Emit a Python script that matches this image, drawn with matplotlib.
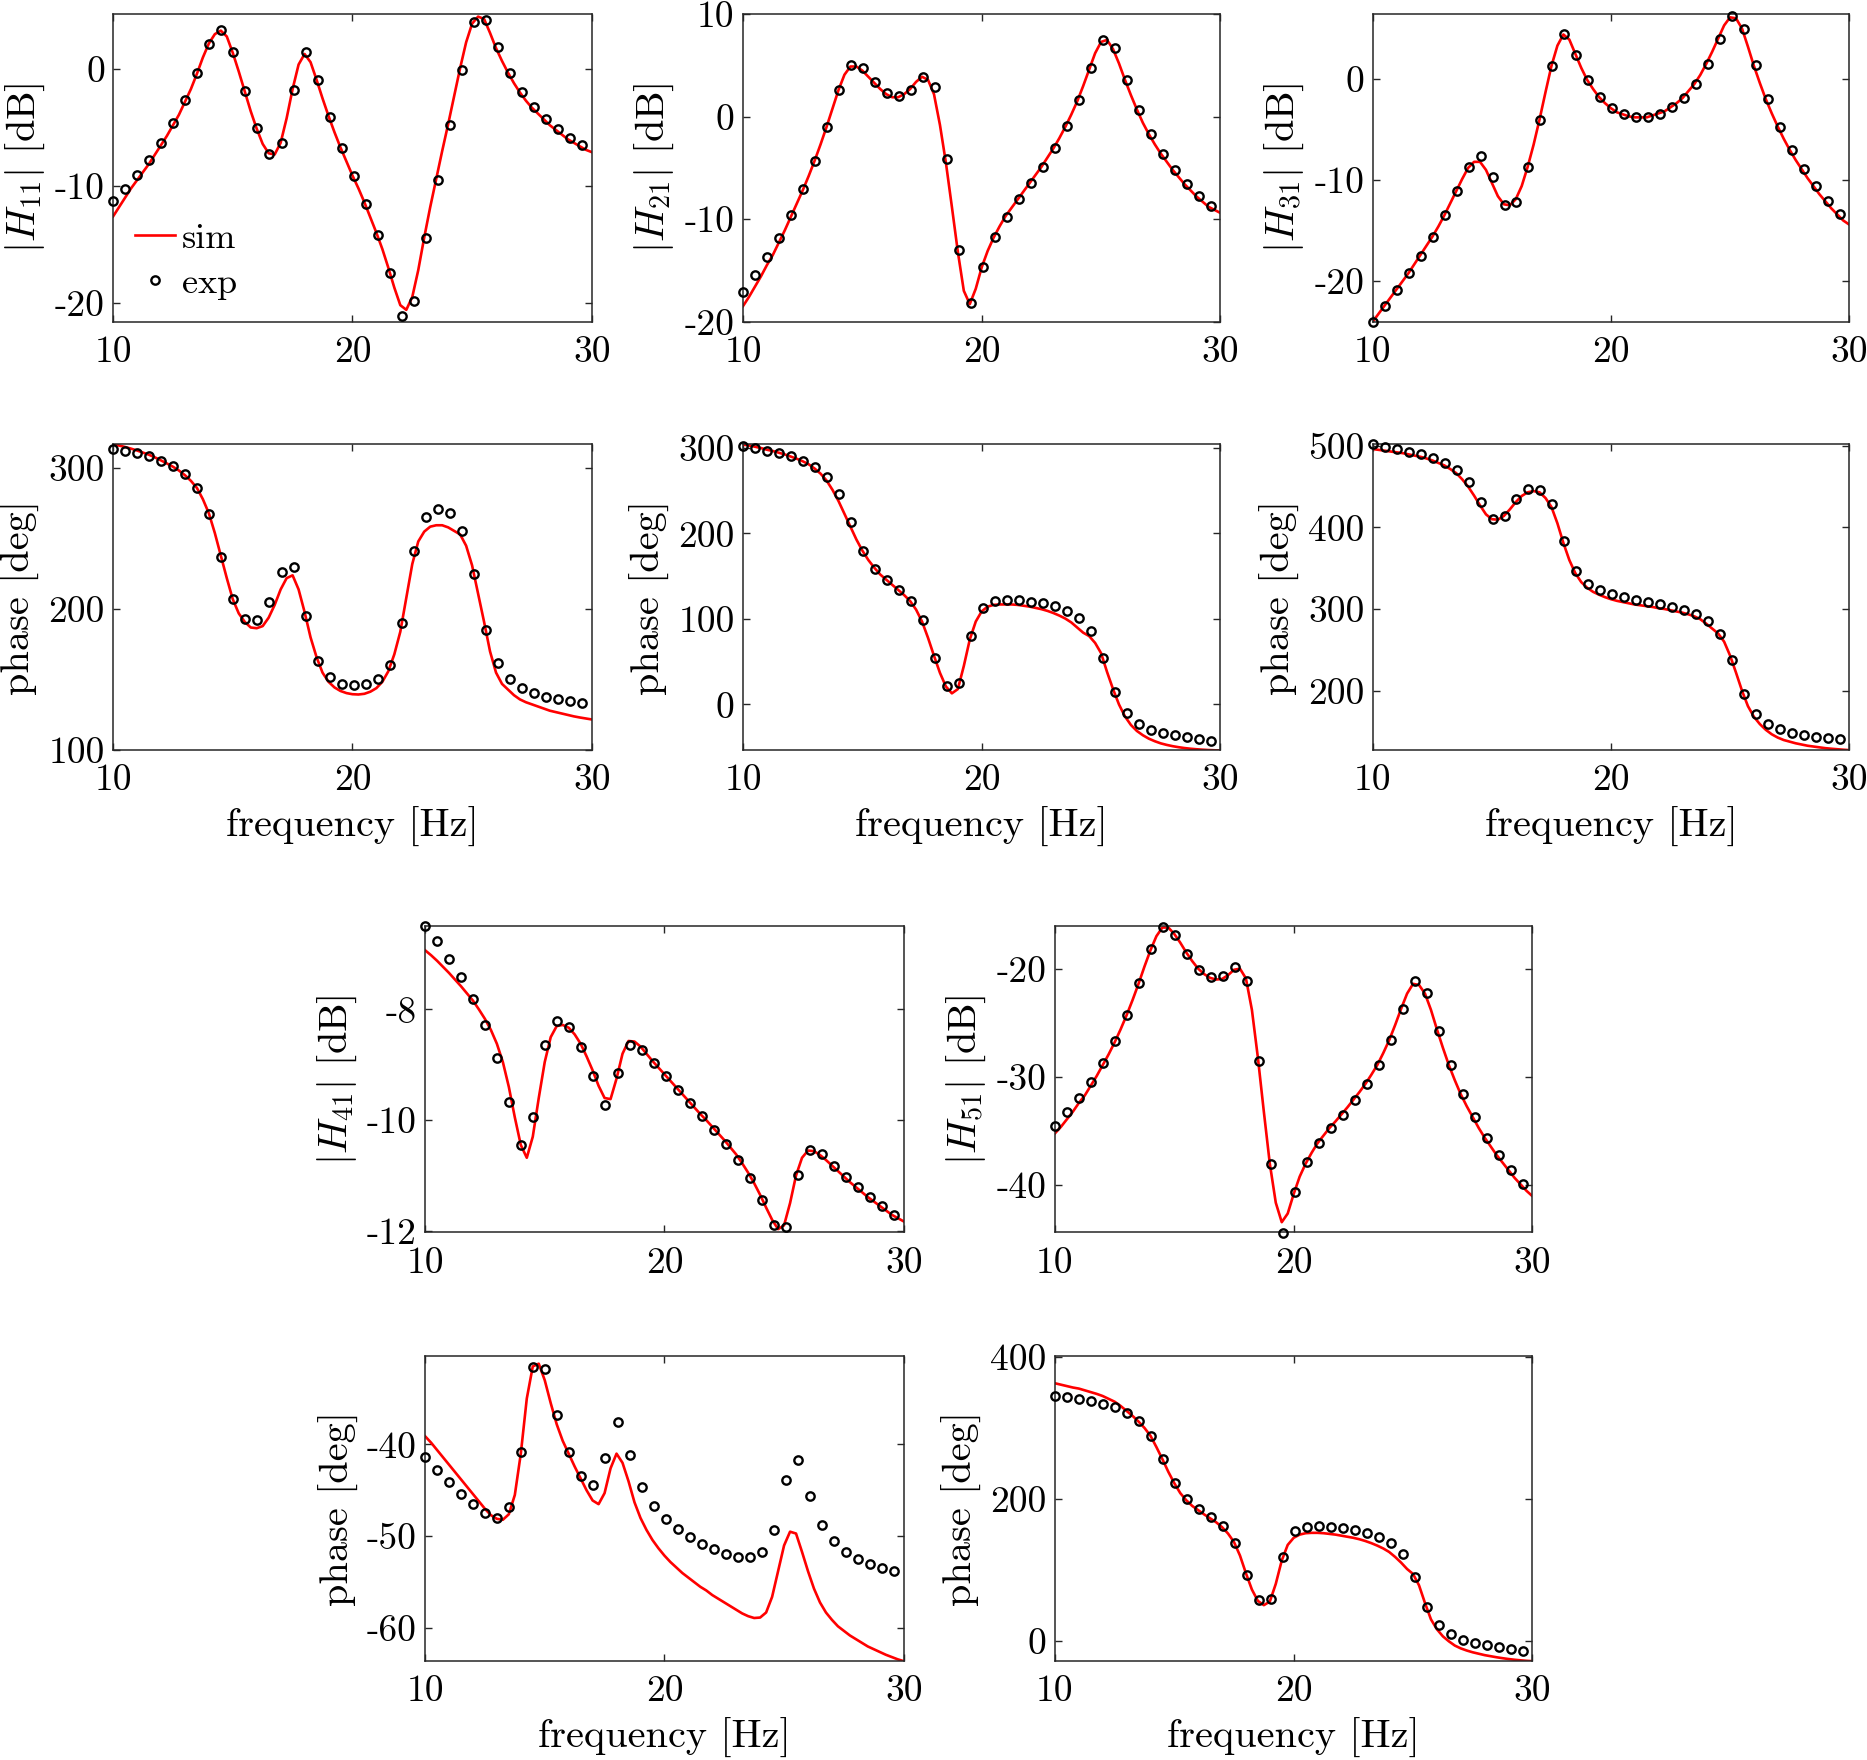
import numpy as np
import matplotlib
matplotlib.use("Agg")
import matplotlib.pyplot as plt

plt.rcParams['font.family'] = 'cmr10'
plt.rcParams['mathtext.fontset'] = 'cm'
plt.rcParams['axes.unicode_minus'] = False
plt.rcParams['axes.formatter.use_mathtext'] = False

# ---------------- data ----------------
f_exp = np.linspace(10.0, 29.6, 40)
f_sim = np.linspace(10.0, 30.0, 81)

# |H11| [dB]
h11_mag_exp = [-11.3, -10.25, -9.07, -7.78, -6.32, -4.64, -2.63, -0.31, 2.15, 3.35,
               1.46, -1.83, -5.06, -7.30, -6.35, -1.80, 1.46, -0.94, -4.12, -6.78,
               -9.13, -11.5, -14.16, -17.42, -21.09, -19.83, -14.42, -9.47, -4.78, -0.03,
               4.0, 4.18, 1.86, -0.29, -1.95, -3.26, -4.29, -5.15, -5.92, -6.52]
h11_mag_sim = [-12.6, -11.8, -11.0, -10.2, -9.5, -8.8, -8.1, -7.3, -6.5, -5.7,
               -4.8, -3.9, -2.8, -1.7, -0.4, 1.0, 2.2, 3.0, 3.3, 2.8,
               1.4, -0.2, -1.9, -3.6, -5.1, -6.4, -7.2, -7.3, -6.3, -4.2,
               -1.7, 0.4, 1.3, 0.6, -0.9, -2.5, -4.0, -5.4, -6.7, -7.9,
               -9.1, -10.2, -11.4, -12.7, -14.0, -15.4, -17.0, -18.7, -20.2, -20.6,
               -19.5, -17.2, -14.4, -11.8, -9.4, -7.0, -4.7, -2.3, 0.1, 2.3,
               3.9, 4.5, 4.3, 3.1, 1.8, 0.7, -0.3, -1.2, -2.0, -2.7,
               -3.3, -3.8, -4.3, -4.8, -5.2, -5.6, -6.0, -6.3, -6.6, -6.9, -7.1]

# phase H11 [deg]
h11_ph_exp = [313.7, 312.1, 310.4, 308.3, 305.2, 301.4, 295.7, 285.8, 267.5, 237.2,
              207.3, 193.1, 192.4, 205.2, 226.5, 229.6, 195.5, 163.5, 151.7, 147.2,
              146.0, 146.9, 150.7, 160.7, 190.3, 241.2, 265.4, 271.3, 268.2, 255.5,
              225.1, 185.3, 161.6, 150.5, 144.3, 140.5, 137.9, 136.3, 134.8, 133.4]
h11_ph_sim = [317, 316, 315, 313.8, 312.5, 311, 309.5, 307.6, 305.5, 303.3,
              301, 298.3, 295, 291, 286, 278, 268, 254, 238, 222,
              207, 197, 191, 187, 186.5, 188, 194, 203, 214, 222,
              224, 214, 198, 180, 166, 155, 148.5, 144.5, 142, 140.5,
              139.7, 139.5, 140, 141.5, 144, 148.5, 156, 168, 184, 208,
              232, 248, 255, 258.5, 259.5, 259.5, 258, 255.5, 253, 245,
              231, 211, 191, 170, 155, 147, 143, 139, 136, 134,
              132.5, 131, 129.5, 128, 127, 126, 125, 124, 123.2, 122.5, 121.8]

# |H21| [dB]
h21_mag_exp = [-17.1, -15.5, -13.7, -11.8, -9.6, -7.1, -4.3, -0.98, 2.58, 5.03,
               4.74, 3.37, 2.35, 2.03, 2.61, 3.86, 2.88, -4.15, -13.04, -18.2,
               -14.64, -11.76, -9.77, -8.07, -6.5, -4.87, -3.07, -0.95, 1.6, 4.74,
               7.52, 6.73, 3.56, 0.65, -1.7, -3.6, -5.16, -6.54, -7.71, -8.76]
h21_mag_sim = [-18.5, -17.6, -16.6, -15.6, -14.5, -13.5, -12.3, -11.1, -9.8, -8.5,
               -7.2, -5.8, -4.3, -2.7, -1.0, 0.8, 2.6, 4.1, 4.9, 4.9,
               4.5, 3.9, 3.3, 2.7, 2.2, 1.9, 1.9, 2.2, 2.7, 3.4,
               3.9, 3.6, 2.2, -0.8, -4.5, -8.8, -13.2, -17.0, -18.3, -16.8,
               -14.7, -13.1, -11.8, -10.7, -9.7, -8.9, -8.1, -7.3, -6.5, -5.7,
               -4.9, -4.0, -3.1, -2.1, -1.0, 0.2, 1.5, 3.0, 4.6, 6.2,
               7.3, 7.5, 6.6, 5.2, 3.6, 2.1, 0.7, -0.6, -1.7, -2.7,
               -3.6, -4.4, -5.2, -5.9, -6.6, -7.2, -7.8, -8.3, -8.8, -9.1, -9.4]

# phase H21 [deg]
h21_ph_exp = [302.7, 299.6, 296.9, 293.8, 290.2, 284.8, 277.7, 265.6, 245.7, 212.9,
              180.1, 158.6, 145.3, 134.4, 121.5, 98.8, 54.3, 21.9, 25.4, 80.1,
              113.3, 121.1, 122.7, 122.3, 120.3, 118.4, 114.8, 109.8, 101.6, 86.3,
              54.7, 14.5, -10.5, -22.7, -29.3, -33.6, -36.3, -38.3, -40.2, -42.2]
h21_ph_sim = [304, 303, 301.5, 300, 298, 296.5, 294.5, 292.5, 290, 287.5,
              284.5, 281, 276, 270, 262, 251, 238, 223, 208, 193,
              180, 169, 160, 152, 146, 140, 134, 128, 121, 111,
              97, 78, 57, 37, 21, 13, 18, 45, 76, 97,
              109, 114.5, 116.5, 117, 117, 117, 116.5, 115.5, 114.5, 113,
              111.5, 109.5, 107, 104, 100.5, 96, 90, 84, 80, 72,
              60, 38, 18, 0, -14, -24, -31, -36, -40, -43,
              -45.5, -47.3, -48.8, -50, -51, -51.8, -52.4, -52.9, -53.3, -53.6, -53.8]

# |H31| [dB]
h31_mag_exp = [-24.0, -22.45, -20.9, -19.24, -17.48, -15.6, -13.48, -11.13, -8.74, -7.65,
               -9.67, -12.48, -12.15, -8.68, -4.04, 1.29, 4.47, 2.42, -0.1, -1.79,
               -2.88, -3.51, -3.81, -3.77, -3.44, -2.81, -1.85, -0.53, 1.46, 4.0,
               6.26, 4.97, 1.36, -1.99, -4.74, -6.99, -8.94, -10.63, -12.09, -13.41]
h31_mag_sim = [-24.0, -23.2, -22.4, -21.6, -20.8, -20.0, -19.2, -18.3, -17.4, -16.5,
               -15.6, -14.6, -13.5, -12.3, -11.1, -9.9, -8.8, -8.2, -8.2, -9.0,
               -10.3, -11.6, -12.4, -12.5, -11.9, -10.6, -8.7, -6.5, -4.0, -1.3,
               1.3, 3.3, 4.4, 3.9, 2.5, 1.1, -0.1, -1.0, -1.8, -2.4,
               -2.9, -3.3, -3.5, -3.7, -3.8, -3.8, -3.8, -3.6, -3.4, -3.2,
               -2.8, -2.4, -1.9, -1.2, -0.5, 0.4, 1.5, 2.7, 4.0, 5.3,
               6.1, 6.0, 5.0, 3.2, 1.3, -0.4, -2.0, -3.4, -4.7, -5.9,
               -7.0, -8.0, -8.9, -9.8, -10.6, -11.4, -12.1, -12.8, -13.4, -14.0, -14.4]

# phase H31 [deg]
h31_ph_exp = [501.6, 498.4, 495.5, 492.6, 489.8, 485.3, 479.5, 470.9, 455.8, 430.8,
              410.4, 414.4, 435.3, 447.6, 446.4, 428.4, 383.8, 346.1, 330.1, 322.8,
              317.9, 314.2, 311.4, 308.5, 306.0, 302.8, 299.1, 293.8, 285.1, 269.1,
              237.6, 195.9, 171.3, 159.4, 152.5, 148.4, 145.5, 143.5, 142.2, 140.2]
h31_ph_sim = [496, 495, 494, 493, 492, 491, 489.5, 488, 486.5, 484.5,
              482, 479, 476, 471.5, 466.5, 459, 450, 439, 427, 416,
              410, 409.5, 414, 422, 431, 438.5, 443, 444.5, 443, 436,
              425, 405, 381, 360, 344, 333, 326, 321, 317.5, 314.5,
              312, 310, 308.5, 307, 305.5, 304.5, 303.5, 302.5, 301, 300,
              298.5, 297, 295.5, 293.5, 291, 287.5, 282, 276, 270, 260,
              243, 222, 200, 181, 168, 159, 152, 146.5, 142.5, 139.5,
              137.5, 135.5, 134, 132.5, 131.5, 130.5, 129.5, 128.8, 128.2, 127.6, 127.1]

# |H41| [dB]
h41_mag_exp = [-6.50, -6.77, -7.08, -7.42, -7.81, -8.28, -8.88, -9.68, -10.45, -9.94,
               -8.64, -8.20, -8.32, -8.68, -9.21, -9.73, -9.14, -8.65, -8.74, -8.97,
               -9.21, -9.46, -9.69, -9.93, -10.18, -10.44, -10.72, -11.05, -11.45, -11.89,
               -11.93, -11.0, -10.54, -10.62, -10.82, -11.02, -11.21, -11.39, -11.55, -11.72]
h41_mag_sim = [-6.93, -7.02, -7.12, -7.23, -7.34, -7.46, -7.58, -7.71, -7.84, -8.0,
               -8.17, -8.37, -8.62, -8.95, -9.4, -9.95, -10.45, -10.68, -10.3, -9.6,
               -8.95, -8.5, -8.3, -8.28, -8.33, -8.45, -8.62, -8.85, -9.1, -9.38,
               -9.6, -9.62, -9.25, -8.8, -8.57, -8.58, -8.67, -8.8, -8.93, -9.05,
               -9.17, -9.29, -9.41, -9.53, -9.65, -9.77, -9.89, -10.0, -10.12, -10.24,
               -10.36, -10.49, -10.62, -10.78, -10.95, -11.14, -11.35, -11.58, -11.8, -11.97,
               -11.9, -11.5, -11.0, -10.68, -10.55, -10.56, -10.63, -10.72, -10.82, -10.92,
               -11.02, -11.12, -11.21, -11.3, -11.39, -11.47, -11.55, -11.63, -11.71, -11.77, -11.83]

# phase H41 [deg]
h41_ph_exp = [-41.38, -42.76, -44.07, -45.35, -46.51, -47.49, -48.0, -46.76, -40.8, -31.53,
              -31.75, -36.76, -40.8, -43.45, -44.36, -41.42, -37.6, -41.2, -44.58, -46.69,
              -48.15, -49.24, -50.11, -50.84, -51.42, -51.89, -52.22, -52.29, -51.71, -49.35,
              -43.82, -41.71, -45.56, -48.73, -50.55, -51.67, -52.47, -53.02, -53.45, -53.78]
h41_ph_sim = [-39.1, -39.8, -40.6, -41.4, -42.2, -43.0, -43.8, -44.6, -45.4, -46.2,
              -47.0, -47.7, -48.1, -48.2, -47.6, -45.5, -41.0, -35.0, -31.5, -31.2,
              -33.0, -35.5, -37.8, -39.6, -41.0, -42.4, -43.7, -45.0, -46.1, -46.5,
              -45.3, -42.6, -41.0, -42.0, -44.0, -46.3, -48.0, -49.3, -50.4, -51.3,
              -52.1, -52.8, -53.4, -54.0, -54.5, -55.0, -55.5, -55.9, -56.4, -56.8,
              -57.2, -57.6, -58.0, -58.4, -58.7, -58.9, -58.85, -58.3, -56.6, -53.8,
              -51.0, -49.5, -49.7, -51.7, -53.8, -55.7, -57.2, -58.3, -59.1, -59.8,
              -60.3, -60.8, -61.2, -61.6, -62.0, -62.3, -62.6, -62.9, -63.15, -63.4, -63.6]

# |H51| [dB]
h51_mag_exp = [-34.48, -33.27, -31.94, -30.43, -28.70, -26.67, -24.23, -21.36, -18.21, -16.14,
               -16.85, -18.64, -20.09, -20.80, -20.68, -19.85, -21.17, -28.52, -38.02, -44.38,
               -40.59, -37.87, -36.11, -34.72, -33.46, -32.13, -30.65, -28.86, -26.57, -23.70,
               -21.17, -22.25, -25.71, -28.92, -31.54, -33.73, -35.59, -37.19, -38.58, -39.91]
h51_mag_sim = [-35.2, -34.6, -33.9, -33.2, -32.4, -31.7, -30.8, -29.9, -28.9, -27.9,
               -26.8, -25.6, -24.3, -22.9, -21.4, -19.8, -18.3, -17.0, -16.2, -16.2,
               -16.8, -17.6, -18.5, -19.3, -20.0, -20.5, -20.85, -21.0, -20.95, -20.6,
               -20.1, -20.0, -20.9, -23.8, -28.2, -33.2, -38.0, -41.6, -43.4, -42.6,
               -40.8, -39.2, -38.0, -37.0, -36.1, -35.4, -34.7, -34.1, -33.45, -32.8,
               -32.1, -31.4, -30.65, -29.8, -28.9, -27.8, -26.6, -25.2, -23.7, -22.3,
               -21.4, -21.5, -22.3, -23.8, -25.6, -27.3, -28.9, -30.3, -31.6, -32.7,
               -33.7, -34.7, -35.6, -36.4, -37.2, -37.9, -38.6, -39.3, -39.9, -40.5, -41.0]

# phase H51 [deg]
h51_ph_exp = [345.6, 343.3, 340.9, 338.1, 334.3, 329.2, 321.7, 310.0, 289.3, 256.0,
              221.8, 199.8, 185.7, 174.4, 161.3, 138.3, 92.4, 57.7, 59.1, 117.7,
              154.3, 160.8, 161.8, 160.8, 159.0, 155.7, 152.4, 146.3, 138.3, 121.5,
              89.1, 47.4, 21.6, 8.9, 1.4, -3.3, -6.6, -9.4, -11.7, -14.1]
h51_ph_sim = [363, 361, 359, 357, 355.5, 353, 350.5, 348, 345, 341,
              337, 331, 324, 317, 309, 300, 289, 273, 256, 238,
              222, 208, 198, 190, 184, 178, 172.5, 167, 160, 151,
              139, 120, 95, 72, 56, 50, 55, 80, 113, 135,
              145, 149.5, 151.5, 152, 152, 151.5, 150.5, 149.5, 148, 146.5,
              145, 143, 140.5, 137.5, 134, 130, 125, 118, 110, 101,
              94, 78, 53, 30, 16, 6, -1, -7, -11, -14,
              -16.5, -18.5, -20.5, -22, -23.5, -24.8, -26, -27, -27.8, -28.5, -29]

x_ticks = [10, 20, 30]

# --------------- layout ---------------
fig = plt.figure(figsize=(18.67, 17.60), dpi=100)

W, H = 1568.0, 1478.0
def rect(l, r, t, b):
    return [l / W, 1 - b / H, (r - l) / W, (b - t) / H]

col_top = [(95, 497), (624, 1025), (1153, 1553)]
col_bot = [(357, 759), (886, 1287)]
rows = [(12, 270), (373, 630), (778, 1035), (1139, 1395)]

panels = [
    (col_top[0], rows[0], h11_mag_sim, h11_mag_exp, r'$|H_{11}|$ [dB]', (-21.6, 4.7), [-20, -10, 0], False),
    (col_top[1], rows[0], h21_mag_sim, h21_mag_exp, r'$|H_{21}|$ [dB]', (-20, 10), [-20, -10, 0, 10], False),
    (col_top[2], rows[0], h31_mag_sim, h31_mag_exp, r'$|H_{31}|$ [dB]', (-24.0, 6.4), [-20, -10, 0], False),
    (col_top[0], rows[1], h11_ph_sim, h11_ph_exp, 'phase [deg]', (100, 317), [100, 200, 300], True),
    (col_top[1], rows[1], h21_ph_sim, h21_ph_exp, 'phase [deg]', (-53.5, 304.5), [0, 100, 200, 300], True),
    (col_top[2], rows[1], h31_ph_sim, h31_ph_exp, 'phase [deg]', (127, 502), [200, 300, 400, 500], True),
    (col_bot[0], rows[2], h41_mag_sim, h41_mag_exp, r'$|H_{41}|$ [dB]', (-12.03, -6.5), [-12, -10, -8], False),
    (col_bot[1], rows[2], h51_mag_sim, h51_mag_exp, r'$|H_{51}|$ [dB]', (-44.35, -16.1), [-40, -30, -20], False),
    (col_bot[0], rows[3], h41_ph_sim, h41_ph_exp, 'phase [deg]', (-63.6, -30.4), [-60, -50, -40], True),
    (col_bot[1], rows[3], h51_ph_sim, h51_ph_exp, 'phase [deg]', (-29, 401), [0, 200, 400], True),
]

frame_col = '#262626'
axes = []
for (lr, tb, sim, exp, ylab, ylim, yt, xl) in panels:
    ax = fig.add_axes(rect(lr[0], lr[1], tb[0], tb[1]))
    ax.plot(f_sim, sim, color='#ff0000', lw=1.9, label='sim', zorder=2)
    ax.plot(f_exp, exp, linestyle='none', marker='o', markersize=6.0,
            markerfacecolor='none', markeredgecolor='black', markeredgewidth=1.7,
            label='exp', zorder=3, clip_on=False)
    ax.set_xlim(10, 30)
    ax.set_ylim(*ylim)
    ax.set_xticks(x_ticks)
    ax.set_yticks(yt)
    ax.tick_params(direction='in', top=True, right=True, length=5, width=1.0,
                   labelsize=27, colors=frame_col, labelcolor='black')
    ax.tick_params(axis='x', pad=10)
    ax.tick_params(axis='y', pad=6)
    for s in ax.spines.values():
        s.set_linewidth(1.1)
        s.set_color(frame_col)
    ax.set_ylabel(ylab, fontsize=29, labelpad=6)
    if xl:
        ax.set_xlabel('frequency [Hz]', fontsize=29, labelpad=7)
    axes.append(ax)

leg = axes[0].legend(loc='lower left', bbox_to_anchor=(0.0, 0.0), frameon=False,
                     fontsize=26, handlelength=1.1, handletextpad=0.2,
                     labelspacing=0.35, borderaxespad=0.2)

fig.savefig('out.png', dpi=100)
